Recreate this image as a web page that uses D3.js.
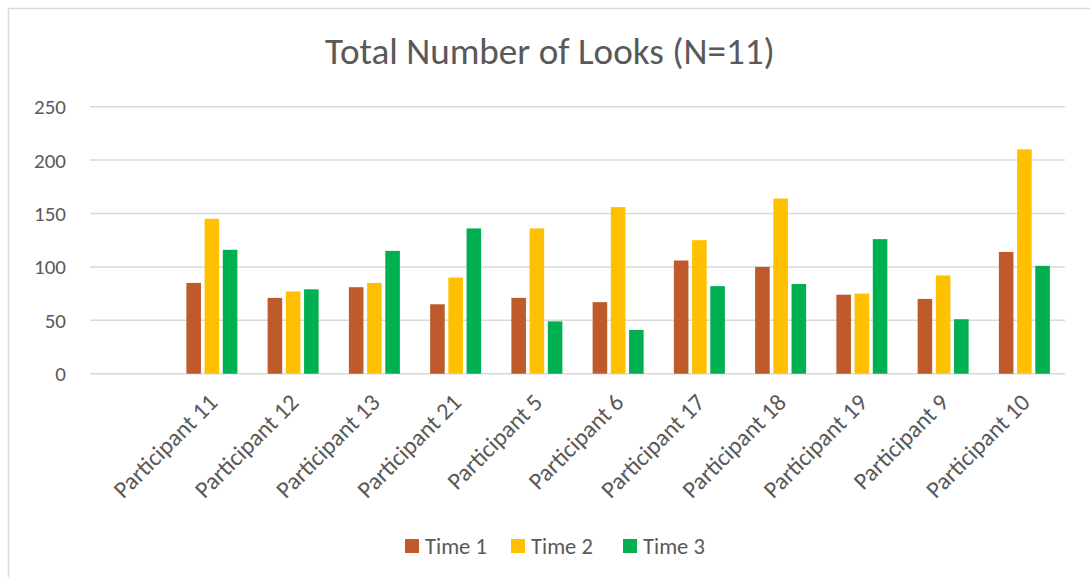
<!DOCTYPE html>
<html>
<head>
<meta charset="utf-8">
<script src="https://cdnjs.cloudflare.com/ajax/libs/d3/7.8.5/d3.min.js"></script>
<style>
  html, body { margin: 0; padding: 0; background: #fff; }
  svg { display: block; }
  text { font-family: Carlito, Calibri, Lato, sans-serif; fill: #595959; }
</style>
</head>
<body>
<svg id="chart" width="1090" height="577"></svg>
<script>
const title = "Total Number of Looks (N=11)";
const categories = ["Participant 11", "Participant 12", "Participant 13", "Participant 21", "Participant 5", "Participant 6", "Participant 17", "Participant 18", "Participant 19", "Participant 9", "Participant 10"];
const seriesNames = ["Time 1", "Time 2", "Time 3"];
const time1 = [85, 71, 81, 65, 71, 67, 106, 100, 74, 70, 114];
const time2 = [145, 77, 85, 90, 136, 156, 125, 164, 75, 92, 210];
const time3 = [116, 79, 115, 136, 49, 41, 82, 84, 126, 51, 101];
const yTicks = [0, 50, 100, 150, 200, 250];
const colors = ["#BE5A2C", "#FFC000", "#00B050"];

(function () {
const seriesValues = [time1, time2, time3];
const svg = d3.select("#chart");

// chart border
svg.append("rect").attr("x", 8.5).attr("y", 8.5).attr("width", 1100).attr("height", 600)
  .attr("fill", "none").attr("stroke", "#d9d9d9").attr("stroke-width", 1.5);

const pLeft = 90, pRight = 1065, pTop = 106.7, pBottom = 373.7;
// leading empty slot as in source sheet
const x = d3.scaleBand().domain([""].concat(categories)).range([pLeft, pRight]).padding(0);
const y = d3.scaleLinear().domain([0, 250]).range([pBottom, pTop]);
const bw = x.bandwidth();
const groupW = 51;
const xs = d3.scaleBand().domain(seriesNames)
  .range([(bw - groupW) / 2, (bw + groupW) / 2]).paddingInner(0.2).paddingOuter(0);

// gridlines
svg.append("g").selectAll("line").data(yTicks).join("line")
  .attr("x1", pLeft).attr("x2", pRight)
  .attr("y1", d => y(d)).attr("y2", d => y(d))
  .attr("stroke", "#d9d9d9").attr("stroke-width", 1.5);

// y tick labels
svg.append("g").selectAll("text").data(yTicks).join("text")
  .attr("x", 66).attr("y", d => y(d)).attr("dy", "0.36em")
  .attr("text-anchor", "end").style("font-size", "21px").text(d => d);

// bars
const groups = svg.append("g").selectAll("g").data(categories).join("g")
  .attr("transform", d => `translate(${x(d)},0)`);
groups.selectAll("rect").data((d, i) => seriesNames.map((s, k) => ({ s, k, v: seriesValues[k][i] })))
  .join("rect")
  .attr("x", d => xs(d.s)).attr("width", xs.bandwidth())
  .attr("y", d => y(d.v)).attr("height", d => y(0) - y(d.v))
  .attr("fill", d => colors[d.k]);

// x labels
svg.append("g").selectAll("text").data(categories).join("text")
  .attr("transform", d => `translate(${x(d) + bw / 2 + 7},${404}) rotate(-45)`)
  .attr("text-anchor", "end").style("font-size", "24px").text(d => d);

// title
const t = svg.append("text").attr("x", 550).attr("y", 64).attr("text-anchor", "middle")
  .style("font-size", "32px").text(title);
const tw = t.node().getComputedTextLength();
t.style("font-size", (32 * 450 / tw) + "px");

// legend
const legendX = [405, 511, 623];
const lg = svg.append("g").selectAll("g").data(seriesNames).join("g")
  .attr("transform", (d, i) => `translate(${legendX[i]},539)`);
lg.append("rect").attr("width", 14).attr("height", 14).attr("fill", (d, i) => colors[i]);
lg.append("text").attr("x", 20).attr("y", 14.5).style("font-size", "22.5px").text(d => d);
})();
</script>
</body>
</html>
